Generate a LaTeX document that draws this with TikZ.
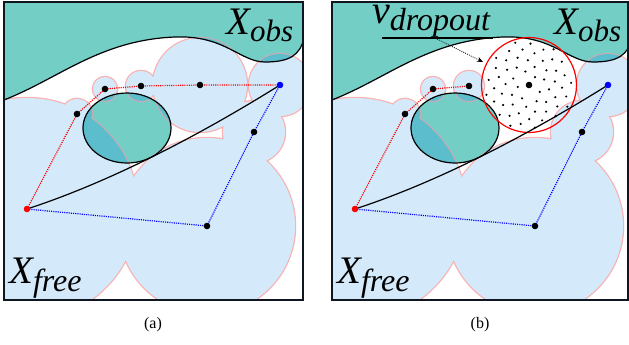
\documentclass[tikz,border=0pt]{standalone}
\usepackage{fontspec}
\setmainfont{Liberation Serif}
\usetikzlibrary{arrows.meta}
\definecolor{freeblue}{RGB}{212,234,251}
\definecolor{pinkline}{RGB}{248,178,178}
\definecolor{pinkdim}{RGB}{196,172,182}
\definecolor{obsteal}{RGB}{115,206,198}
\definecolor{darkteal}{RGB}{92,190,204}
\definecolor{framecol}{RGB}{14,22,34}
\tikzset{
  reddot/.style={red, line width=1.2pt, dash pattern=on 1.1pt off 1.1pt},
  bluedot/.style={blue, line width=1.2pt, dash pattern=on 1.1pt off 1.1pt},
  wp/.style={circle, fill=#1, inner sep=0pt, minimum size=6.6pt},
  wp/.default=black,
  traj/.style={black, line width=1.2pt},
  framebox/.style={framecol, line width=1.6pt},
  biglabel/.style={anchor=base west, inner sep=0pt, font=\fontsize{39}{39}\selectfont\itshape},
  caption/.style={font=\fontsize{16}{16}\selectfont},
  pinkb/.style={line width=2.5pt},
}
\newcommand{\obspath}{(4,100) .. controls (60,78) and (100,40) .. (175,37) .. controls (225,35) and (240,62) .. (265,62) .. controls (290,62) and (300,55) .. (304,38) -- (310,38) -- (310,-5) -- (-5,-5) -- (-5,100) -- cycle}
\newcommand{\obscurve}{(-2,103) -- (4,100) .. controls (60,78) and (100,40) .. (175,37) .. controls (225,35) and (240,62) .. (265,62) .. controls (290,62) and (300,55) .. (304,38)}
\newcommand{\ellpath}{(127,128) ellipse[x radius=44pt, y radius=35pt]}
\newcommand{\circA}{(a-s) circle[radius=111pt] (a-w1) circle[radius=15pt] (a-w2) circle[radius=12pt] (a-w3) circle[radius=15pt] (a-w4) circle[radius=47pt] (a-g) circle[radius=31pt] (a-u2) circle[radius=31pt] (a-u1) circle[radius=88pt]}
\newcommand{\circB}{(b-s) circle[radius=111pt] (b-w1) circle[radius=15pt] (b-w2) circle[radius=12pt] (b-w3) circle[radius=15pt] (b-g) circle[radius=31pt] (b-u2) circle[radius=31pt] (b-u1) circle[radius=88pt]}
\begin{document}
\begin{tikzpicture}[x=1pt,y=-1pt]
\useasboundingbox (0,0) rectangle (629,345);
% ================= panel (a) =================
\begin{scope}
  \coordinate (a-s) at (27,209);
  \coordinate (a-w1) at (77,114);
  \coordinate (a-w2) at (105,89);
  \coordinate (a-w3) at (141,86);
  \coordinate (a-w4) at (200,85);
  \coordinate (a-g) at (280,85);
  \coordinate (a-u1) at (207,226);
  \coordinate (a-u2) at (254,132);
  \begin{scope}
    \clip (4,2) rectangle (303,300);
    \fill[white] (4,2) rectangle (303,300);
    \draw[pinkline, pinkb] \circA;
    \fill[freeblue] \circA;
    \fill[obsteal] \obspath;
    \fill[obsteal] \ellpath;
    \begin{scope}
      \clip \obspath \ellpath;
      \draw[pinkdim, pinkb] \circA;
      \fill[darkteal] \circA;
    \end{scope}
    \draw[black, line width=1.2pt] \ellpath;
    \draw[black, line width=1.2pt] \obscurve;
    \draw[reddot] (a-s) -- (a-w1) -- (a-w2) -- (a-w3) -- (a-w4) -- (a-g);
    \draw[bluedot] (a-s) -- (a-u1) -- (a-u2) -- (a-g);
    \draw[traj] (a-s) .. controls (110,182) and (200,135) .. (a-g);
    \node[wp=red] (a-sd) at (a-s) {};
    \node[wp=blue] (a-gd) at (a-g) {};
    \node[wp] (a-w1d) at (a-w1) {};
    \node[wp] (a-w2d) at (a-w2) {};
    \node[wp] (a-w3d) at (a-w3) {};
    \node[wp] (a-w4d) at (a-w4) {};
    \node[wp] (a-u1d) at (a-u1) {};
    \node[wp] (a-u2d) at (a-u2) {};
    \node[biglabel] (a-xobs) at (226,35) {X\raisebox{-7pt}{\fontsize{31}{31}\selectfont obs}};
    \node[biglabel] (a-xfree) at (9,283) {X\raisebox{-8.5pt}{\fontsize{32}{32}\selectfont free}};
  \end{scope}
  \draw[framebox] (4,2) rectangle (303,300);
  \node[caption] (a-cap) at (153,325) {(a)};
\end{scope}
% ================= panel (b) =================
\begin{scope}[xshift=328pt]
  \coordinate (b-s) at (27,209);
  \coordinate (b-w1) at (77,114);
  \coordinate (b-w2) at (105,89);
  \coordinate (b-w3) at (141,86);
  \coordinate (b-drop) at (201,85);
  \coordinate (b-g) at (280,85);
  \coordinate (b-u1) at (207,226);
  \coordinate (b-u2) at (254,132);
  \begin{scope}
    \clip (4,2) rectangle (300,300);
    \fill[white] (4,2) rectangle (300,300);
    \draw[pinkline, pinkb] \circB;
    \fill[freeblue] \circB;
    \fill[obsteal] \obspath;
    \fill[obsteal] \ellpath;
    \begin{scope}
      \clip \obspath \ellpath;
      \draw[pinkdim, pinkb] \circB;
      \fill[darkteal] \circB;
    \end{scope}
    \draw[black, line width=1.2pt] \ellpath;
    \draw[black, line width=1.2pt] \obscurve;
    % dropout region
    \foreach \i in {3,...,62} {
      \pgfmathsetmacro\rr{45.5*sqrt(\i/64)}
      \pgfmathsetmacro\th{\i*137.508}
      \fill[black] (b-drop) ++(\th:\rr pt) circle[radius=1.2pt];
    }
    \draw[red, line width=1.2pt] (b-drop) circle[radius=47.5pt];
    \draw[reddot] (b-s) -- (b-w1) -- (b-w2) -- (b-w3);
    \draw[bluedot] (b-s) -- (b-u1) -- (b-u2) -- (b-g);
    \draw[traj] (b-s) .. controls (110,182) and (200,135) .. (b-g);
    \node[wp=red] (b-sd) at (b-s) {};
    \node[wp=blue] (b-gd) at (b-g) {};
    \node[wp] (b-w1d) at (b-w1) {};
    \node[wp] (b-w2d) at (b-w2) {};
    \node[wp] (b-w3d) at (b-w3) {};
    \node[wp] (b-dropd) at (b-drop) {};
    \node[wp] (b-u1d) at (b-u1) {};
    \node[wp] (b-u2d) at (b-u2) {};
    \node[biglabel] (b-xobs) at (226,35) {X\raisebox{-7pt}{\fontsize{31}{31}\selectfont obs}};
    \node[biglabel] (b-xfree) at (9,283) {X\raisebox{-8.5pt}{\fontsize{32}{32}\selectfont free}};
    \coordinate (b-ul1) at (54,38);
    \coordinate (b-ul2) at (165,38);
    \draw[black, line width=1.1pt] (b-ul1) -- (b-ul2);
    \coordinate (b-arr0) at (109,39);
    \coordinate (b-arr1) at (155,62);
    \draw[black, line width=0.8pt, dash pattern=on 0.9pt off 1.2pt, -{Stealth[length=6pt,width=5pt]}] (b-arr0) -- (b-arr1);
  \end{scope}
  \node[biglabel, font=\fontsize{40}{40}\selectfont\itshape] (b-vd) at (44,24) {v\raisebox{-7pt}{\fontsize{32}{32}\selectfont dropout}};
  \draw[framebox] (4,2) rectangle (300,300);
  \node[caption] (b-cap) at (152,325) {(b)};
\end{scope}
\end{tikzpicture}
\end{document}
